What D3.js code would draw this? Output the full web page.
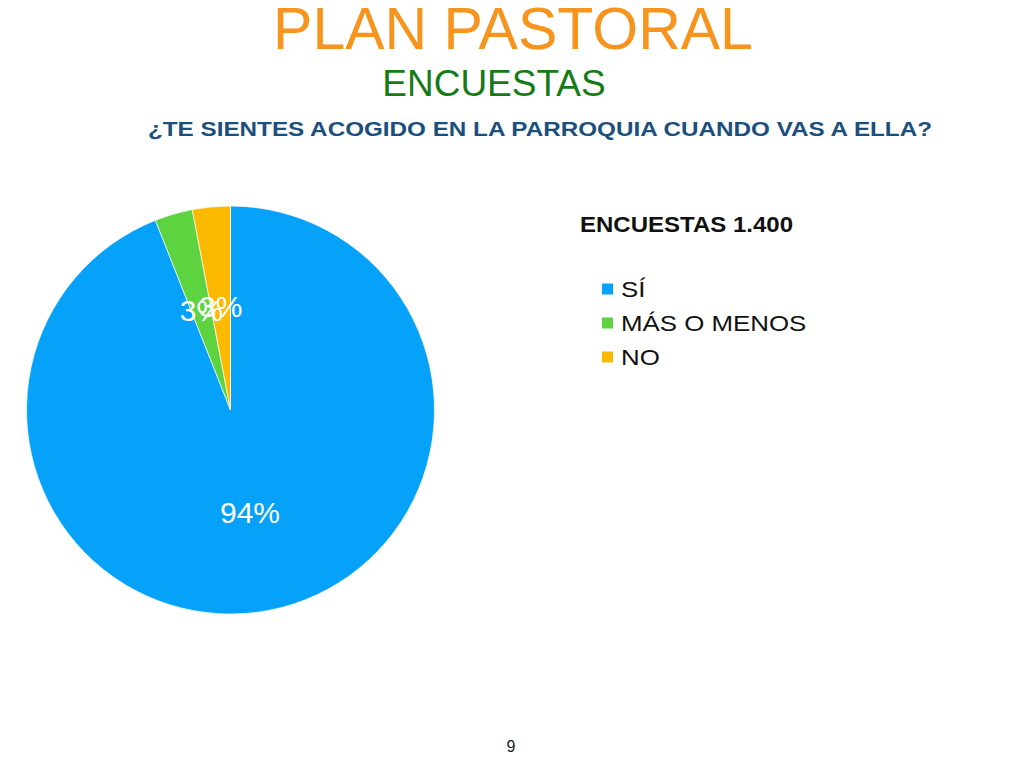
<!DOCTYPE html>
<html>
<head>
<meta charset="utf-8">
<script src="https://cdn.jsdelivr.net/npm/d3@7"></script>
<style>
  body { margin: 0; background: #fff; }
  text { font-family: "Liberation Sans", Arial, sans-serif; }
</style>
</head>
<body>
<div id="chart"></div>
<script>
// survey data
const categories = ["SÍ", "MÁS O MENOS", "NO"];
const values = [94, 3, 3];
const sliceColors = ["#06A2FA", "#5DD43F", "#FBB900"];
const legendTitle = "ENCUESTAS 1.400";
const question = "¿TE SIENTES ACOGIDO EN LA PARROQUIA CUANDO VAS A ELLA?";

const width = 1024;
const height = 768;

const svg = d3.select("#chart")
  .append("svg")
  .attr("width", width)
  .attr("height", height);

// slide titles
svg.append("text")
  .attr("x", 513).attr("y", 49)
  .attr("text-anchor", "middle")
  .style("font-size", "59px")
  .style("fill", "#F7941E")
  .text("PLAN PASTORAL");

svg.append("text")
  .attr("x", 494).attr("y", 96)
  .attr("text-anchor", "middle")
  .style("font-size", "37px")
  .style("fill", "#167A17")
  .text("ENCUESTAS");

svg.append("text")
  .attr("x", 148).attr("y", 136)
  .attr("textLength", 784)
  .attr("lengthAdjust", "spacingAndGlyphs")
  .style("font-size", "21px")
  .style("font-weight", "bold")
  .style("fill", "#1B4F7E")
  .text(question);

// pie
const data = categories.map((c, i) => ({ name: c, value: values[i], color: sliceColors[i] }));
const radius = 204;
const cx = 230.5, cy = 410;

const pie = d3.pie().sort(null).value(d => d.value);
const arc = d3.arc().innerRadius(0).outerRadius(radius);
const labelArc = d3.arc().innerRadius(radius * 0.51).outerRadius(radius * 0.51);

const g = svg.append("g").attr("transform", `translate(${cx},${cy})`);

g.selectAll("path")
  .data(pie(data))
  .enter()
  .append("path")
  .attr("d", arc)
  .attr("fill", d => d.data.color)
  .attr("stroke", "#fff")
  .attr("stroke-width", 0.7);

g.selectAll("text")
  .data(pie(data))
  .enter()
  .append("text")
  .attr("transform", d => `translate(${labelArc.centroid(d)})`)
  .attr("text-anchor", "middle")
  .attr("dy", "0.36em")
  .style("font-size", "30px")
  .style("fill", "#fff")
  .text(d => d.data.value + "%");

// legend
svg.append("text")
  .attr("x", 580).attr("y", 232)
  .attr("textLength", 213)
  .attr("lengthAdjust", "spacingAndGlyphs")
  .style("font-size", "22px")
  .style("font-weight", "bold")
  .style("fill", "#111")
  .text(legendTitle);

const legend = svg.append("g").attr("transform", "translate(602, 289)");
const rowStep = 34;

const item = legend.selectAll("g")
  .data(data)
  .enter()
  .append("g")
  .attr("transform", (d, i) => `translate(0, ${i * rowStep})`);

item.append("rect")
  .attr("x", 0).attr("y", -5.5)
  .attr("width", 11).attr("height", 11)
  .attr("fill", d => d.color);

item.append("text")
  .attr("transform", "translate(19, 8) scale(1.15, 1)")
  .style("font-size", "22.5px")
  .style("fill", "#111")
  .text(d => d.name);

// page number
svg.append("text")
  .attr("x", 511).attr("y", 752)
  .attr("text-anchor", "middle")
  .style("font-size", "16px")
  .style("fill", "#222")
  .text("9");
</script>
</body>
</html>
